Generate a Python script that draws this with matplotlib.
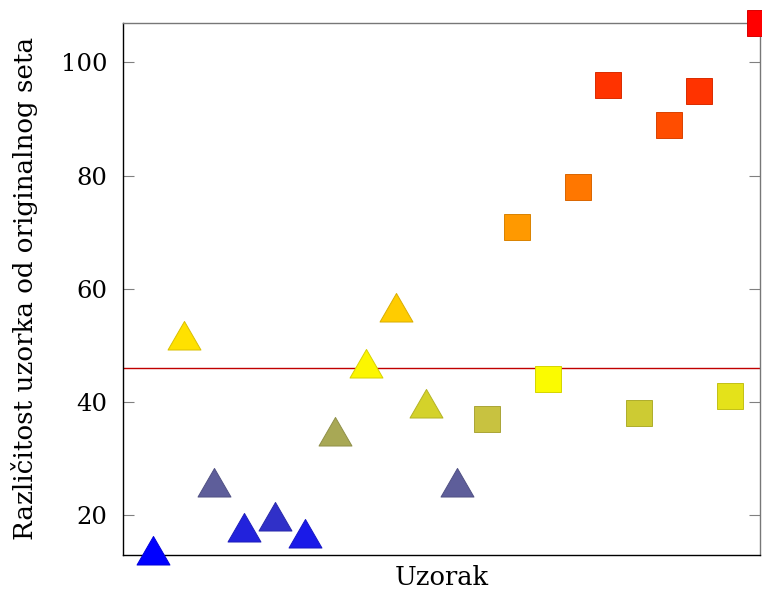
import numpy as np
import matplotlib
matplotlib.use("Agg")
import matplotlib.pyplot as plt
from matplotlib.path import Path
from matplotlib.colors import to_rgb

# Data
sample_idx = list(range(1, 22))
values = [13, 51, 25, 17, 19, 16, 34, 46, 56, 39, 25,
          37, 71, 44, 78, 96, 38, 89, 95, 41, 107]
shapes = ['tri'] * 11 + ['sq'] * 10
point_colors = ['#0000ff', '#ffe100', '#5e5e9a', '#2222dc', '#3030c8', '#1a1ae8',
                '#a8a855', '#fcf600', '#ffcc00', '#d4d22a', '#5e5e9a',
                '#c8c240', '#ff9900', '#fbfb00', '#ff7700', '#ff3300',
                '#cdcb33', '#ff4d00', '#ff3300', '#e4e21a', '#ff0000']
reference_level = 46
xlabel = 'Uzorak'
ylabel = 'Različitost uzorka od originalnog seta'

plt.rcParams['font.family'] = ['DejaVu Serif']

# equilateral triangle centred on its circumcentre (like pgfplots "triangle")
tri = Path([(0, 1), (-0.866, -0.5), (0.866, -0.5), (0, 1)],
           [Path.MOVETO, Path.LINETO, Path.LINETO, Path.CLOSEPOLY])


def darker(c, f=0.85):
    r, g, b = to_rgb(c)
    return (r * f, g * f, b * f)


fig = plt.figure(figsize=(7.62, 5.93), dpi=100)
ax = fig.add_axes([0.1614, 0.0641, 0.9974 - 0.1614, 0.9617 - 0.0641])

ax.axhline(reference_level, color='#c00000', linewidth=1.0, zorder=2)

for x, y, shp, col in zip(sample_idx, values, shapes, point_colors):
    if shp == 'tri':
        ax.plot(x, y, marker=tri, markersize=27.4, color=col,
                markeredgecolor=darker(col), markeredgewidth=0.7,
                linestyle='None', clip_on=False, zorder=5)
    else:
        ax.plot(x, y, marker='s', markersize=19.4, color=col,
                markeredgecolor=darker(col), markeredgewidth=0.7,
                linestyle='None', clip_on=False, zorder=5)

ax.set_xlim(0, 21)
ax.set_ylim(min(values), max(values))
ax.set_xticks([])
ax.set_yticks([20, 40, 60, 80, 100])

ax.tick_params(axis='y', direction='in', length=8, width=0.8, color='#808080',
               left=True, right=True, labelsize=17.5, pad=11)

for side in ['left', 'bottom']:
    ax.spines[side].set_color('black')
    ax.spines[side].set_linewidth(1.0)
for side in ['top', 'right']:
    ax.spines[side].set_color('#777777')
    ax.spines[side].set_linewidth(1.0)

ax.set_xlabel(xlabel, fontsize=18.5)
ax.set_ylabel(ylabel, fontsize=18.8)
ax.xaxis.set_label_coords(0.50, -0.018)
ax.yaxis.set_label_coords(-0.133, 0.50)

fig.savefig('out.png', dpi=100)
